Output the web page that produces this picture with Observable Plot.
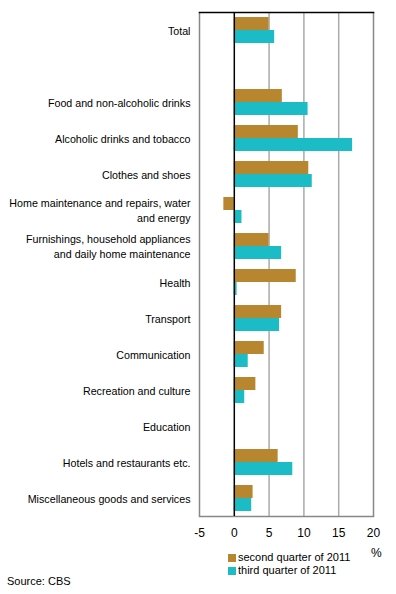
<!DOCTYPE html>
<html><head><meta charset="utf-8">
<script src="https://cdn.jsdelivr.net/npm/d3@7"></script>
<script src="https://cdn.jsdelivr.net/npm/@observablehq/plot@0.6"></script>
<style>
body{margin:0;background:#fff;font-family:"Liberation Sans",Arial,sans-serif;font-size:11px;color:#000}
#wrap{position:relative;width:396px;height:594px;overflow:hidden}
.abs{position:absolute;white-space:nowrap;line-height:13px}
.sw{display:inline-block;width:8px;height:8px;margin-right:2px;vertical-align:-1px}
</style></head><body><div id="wrap"></div>
<script>
const categories = [
  "Total",
  " ",
  "Food and non-alcoholic drinks",
  "Alcoholic drinks and tobacco",
  "Clothes and shoes",
  "Home maintenance and repairs, water\nand energy",
  "Furnishings, household appliances\nand daily home maintenance",
  "Health",
  "Transport",
  "Communication",
  "Recreation and culture",
  "Education",
  "Hotels and restaurants etc.",
  "Miscellaneous goods and services"
];
const q2 = [5.0, null, 6.9, 9.2, 10.7, -1.5, 5.0, 8.9, 6.8, 4.3, 3.1, null, 6.3, 2.7];
const q3 = [5.8, null, 10.6, 17.0, 11.2, 1.1, 6.8, 0.4, 6.5, 2.0, 1.5, null, 8.4, 2.5];
const seriesNames = ["second quarter of 2011", "third quarter of 2011"];
const seriesColors = ["#b8862f", "#1cbcc6"];
const xTicks = [-5, 0, 5, 10, 15, 20];

const rows = categories.map((c, i) => ({c, q2: q2[i], q3: q3[i]}));

const plot = Plot.plot({
  width: 396,
  height: 545,
  marginTop: 12,
  marginBottom: 29,
  marginLeft: 199,
  marginRight: 23,
  style: {fontFamily: '"Liberation Sans", Arial, sans-serif', fontSize: "11px", color: "#000", background: "#fff"},
  x: {domain: [-5, 20]},
  y: {domain: categories, padding: 0},
  marks: [
    Plot.ruleX(xTicks.filter(t => t > -5 && t < 20 && t !== 0), {stroke: "#aaa", strokeOpacity: 1, strokeWidth: 1.5}),
    Plot.ruleX([xTicks[0], xTicks[xTicks.length - 1]], {stroke: "#888", strokeOpacity: 1, strokeWidth: 1.5}),
    Plot.frame({anchor: "bottom", stroke: "#888", strokeWidth: 1.5}),
    Plot.barX(rows.filter(d => d.q2 != null), {x: "q2", y: "c", fill: seriesColors[0], insetTop: 5, insetBottom: 18}),
    Plot.barX(rows.filter(d => d.q3 != null), {x: "q3", y: "c", fill: seriesColors[1], insetTop: 18, insetBottom: 5}),
    Plot.ruleX([0], {stroke: "#000", strokeWidth: 1.5}),
    Plot.frame({anchor: "top", stroke: "#000", strokeWidth: 1.5}),
    Plot.axisX({ticks: xTicks, tickFormat: d => String(d), tickSize: 0, tickPadding: 12, label: null, fontSize: 12}),
    Plot.axisY({tickSize: 0, tickPadding: 9, label: null, lineHeight: 1.4, fontSize: 10.7, dy: -0.5})
  ]
});

const wrap = document.getElementById("wrap");
plot.style.position = "absolute";
plot.style.left = "0px";
plot.style.top = "0px";
wrap.appendChild(plot);

function addText(html, left, top, extra) {
  const d = document.createElement("div");
  d.className = "abs";
  d.style.left = left + "px";
  d.style.top = top + "px";
  if (extra) Object.assign(d.style, extra);
  d.innerHTML = html;
  wrap.appendChild(d);
}
addText("%", 371, 547, {fontSize: "12px"});
seriesNames.forEach((n, i) => {
  addText(`<span class="sw" style="background:${seriesColors[i]}"></span>${n}`, 228, 551 + i * 13);
});
addText("Source: CBS", 7, 575);
</script>
</body></html>
